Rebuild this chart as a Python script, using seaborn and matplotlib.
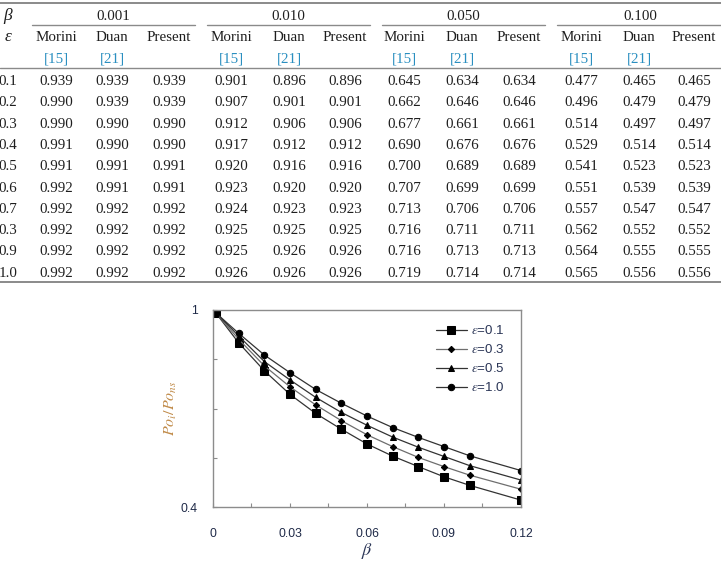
"""Tabla de Po_i/Po_ns y gráfico de su variación con beta."""

import matplotlib
matplotlib.use("Agg")
import matplotlib.pyplot as plt
import numpy as np
import pandas as pd
import seaborn as sns

sns.set_theme(style="white")
plt.rcParams["mathtext.fontset"] = "stix"

# ---- datos de la tabla ----
table_betas = ["0.001", "0.010", "0.050", "0.100"]
table_methods = ["Morini", "Duan", "Present"]
table_refs = ["[15]", "[21]", ""]
table_eps = ["0.1", "0.2", "0.3", "0.4", "0.5", "0.6", "0.7", "0.3", "0.9", "1.0"]

morini_001 = ["0.939", "0.990", "0.990", "0.991", "0.991", "0.992", "0.992", "0.992", "0.992", "0.992"]
duan_001 = ["0.939", "0.939", "0.990", "0.990", "0.991", "0.991", "0.992", "0.992", "0.992", "0.992"]
present_001 = ["0.939", "0.939", "0.990", "0.990", "0.991", "0.991", "0.992", "0.992", "0.992", "0.992"]
morini_010 = ["0.901", "0.907", "0.912", "0.917", "0.920", "0.923", "0.924", "0.925", "0.925", "0.926"]
duan_010 = ["0.896", "0.901", "0.906", "0.912", "0.916", "0.920", "0.923", "0.925", "0.926", "0.926"]
present_010 = ["0.896", "0.901", "0.906", "0.912", "0.916", "0.920", "0.923", "0.925", "0.926", "0.926"]
morini_050 = ["0.645", "0.662", "0.677", "0.690", "0.700", "0.707", "0.713", "0.716", "0.716", "0.719"]
duan_050 = ["0.634", "0.646", "0.661", "0.676", "0.689", "0.699", "0.706", "0.711", "0.713", "0.714"]
present_050 = ["0.634", "0.646", "0.661", "0.676", "0.689", "0.699", "0.706", "0.711", "0.713", "0.714"]
morini_100 = ["0.477", "0.496", "0.514", "0.529", "0.541", "0.551", "0.557", "0.562", "0.564", "0.565"]
duan_100 = ["0.465", "0.479", "0.497", "0.514", "0.523", "0.539", "0.547", "0.552", "0.555", "0.556"]
present_100 = ["0.465", "0.479", "0.497", "0.514", "0.523", "0.539", "0.547", "0.552", "0.555", "0.556"]

table_columns = [
    morini_001, duan_001, present_001,
    morini_010, duan_010, present_010,
    morini_050, duan_050, present_050,
    morini_100, duan_100, present_100,
]

# ---- datos del gráfico ----
beta = [0.001, 0.01, 0.02, 0.03, 0.04, 0.05, 0.06, 0.07, 0.08, 0.09, 0.10, 0.12]
po_eps01 = [0.992, 0.900, 0.815, 0.743, 0.685, 0.637, 0.592, 0.555, 0.523, 0.492, 0.466, 0.421]
po_eps03 = [0.992, 0.911, 0.830, 0.766, 0.711, 0.663, 0.620, 0.584, 0.551, 0.523, 0.497, 0.454]
po_eps05 = [0.992, 0.921, 0.843, 0.787, 0.734, 0.688, 0.649, 0.613, 0.582, 0.554, 0.526, 0.482]
po_eps10 = [0.992, 0.929, 0.863, 0.809, 0.758, 0.716, 0.677, 0.642, 0.612, 0.584, 0.556, 0.511]
series_labels = [r"$\varepsilon$=0.1", r"$\varepsilon$=0.3", r"$\varepsilon$=0.5", r"$\varepsilon$=1.0"]

W, H = 721, 583
fig = plt.figure(figsize=(W / 100, H / 100), dpi=100)

# ---------------- tabla ----------------
tab = fig.add_axes([0, 0, 1, 1])
tab.set_xlim(0, W)
tab.set_ylim(H, 0)
tab.axis("off")

serif = "Liberation Serif"
txt_color = "#1e1e1e"
rule_color = "#8a8a8a"
cite_color = "#2a8fc0"
fs = 10.8

col_x = [56, 112, 169, 231, 289, 345, 404, 462, 519, 581, 639, 694]
group_x = [113, 288, 463, 640]
cmid = [(32, 195), (207, 370), (382, 545), (557, 721)]
row_y0, row_dy = 85, 21.3

tab.plot([0, W], [2.8, 2.8], color=rule_color, lw=1.4)
tab.plot([0, W], [67.8, 67.8], color=rule_color, lw=1.0)
tab.plot([0, W], [282.3, 282.3], color=rule_color, lw=1.4)
for x0, x1 in cmid:
    tab.plot([x0, x1], [24.8, 24.8], color=rule_color, lw=1.0)

tab.text(8, 20, "β", fontfamily=serif, fontstyle="italic", fontsize=12.5,
         ha="center", va="baseline", color=txt_color)
tab.text(8, 41, "ε", fontfamily=serif, fontstyle="italic", fontsize=12.5,
         ha="center", va="baseline", color=txt_color)
for gx, b in zip(group_x, table_betas):
    tab.text(gx, 20, b, fontfamily=serif, fontsize=fs, ha="center", va="baseline", color=txt_color)
for i, cx in enumerate(col_x):
    tab.text(cx, 41, table_methods[i % 3], fontfamily=serif, fontsize=fs,
             ha="center", va="baseline", color=txt_color)
    ref = table_refs[i % 3]
    if ref:
        tab.text(cx, 62.5, ref, fontfamily=serif, fontsize=fs,
                 ha="center", va="baseline", color=cite_color)

for r, e in enumerate(table_eps):
    y = row_y0 + r * row_dy
    tab.text(8, y, e, fontfamily=serif, fontsize=fs, ha="center", va="baseline", color=txt_color)
    for cx, col in zip(col_x, table_columns):
        tab.text(cx, y, col[r], fontfamily=serif, fontsize=fs,
                 ha="center", va="baseline", color=txt_color)

# ---------------- gráfico ----------------
ax = fig.add_axes([213 / W, 1 - 507 / H, 308 / W, 197 / H])
long = pd.DataFrame({
    "beta": beta * 4,
    "po": po_eps01 + po_eps03 + po_eps05 + po_eps10,
    "eps": sum([[lab] * len(beta) for lab in series_labels], []),
})
markers = ["s", "D", "^", "o"]
msizes = [5.2, 3.2, 4.4, 4.6]
lcolors = ["#333333", "#6e6e6e", "#333333", "#333333"]
for lab, mk, ms, lc in zip(series_labels, markers, msizes, lcolors):
    sub = long[long["eps"] == lab]
    sns.lineplot(data=sub, x="beta", y="po", ax=ax, color=lc, lw=0.9,
                 marker=mk, markersize=ms, markerfacecolor="black",
                 markeredgecolor="black", label=lab)

ax.set_xlim(0, 0.12)
ax.set_ylim(0.4, 1.0)
xt = np.arange(0, 0.1201, 0.015)
ax.set_xticks(xt)
ax.set_xticklabels(["0" if i == 0 else (f"{v:.2f}" if i % 2 == 0 else "") for i, v in enumerate(xt)])
yt = [0.4, 0.55, 0.7, 0.85, 1.0]
ax.set_yticks(yt)
ax.set_yticklabels(["0.4", "", "", "", "1"])

tick_color = "#1f2a48"
ax.tick_params(axis="both", direction="in", length=3, width=0.8, colors="#8c8c8c",
               labelcolor=tick_color, labelsize=8.8)
ax.tick_params(axis="x", pad=15)
ax.tick_params(axis="y", pad=11)
ax.tick_params(bottom=True, left=True)
for lbl in ax.get_xticklabels() + ax.get_yticklabels():
    lbl.set_fontfamily("Liberation Sans")
for sp in ax.spines.values():
    sp.set_color("#8c8c8c")
    sp.set_linewidth(1.0)

ax.set_xlabel(r"$\beta$", fontsize=13, color="#2a3556", labelpad=1)
ax.set_ylabel(r"$Po_i/Po_{ns}$", fontsize=11.5, color="#c08a48", labelpad=1)

leg = ax.legend(loc="upper right", frameon=False, handlelength=2.3,
                handletextpad=0.3, labelspacing=0.45, borderaxespad=0.6,
                bbox_to_anchor=(0.99, 0.995),
                prop={"family": "Liberation Sans", "size": 9.6})
for t in leg.get_texts():
    t.set_color("#2a3556")

fig.savefig("out.png", dpi=100)
